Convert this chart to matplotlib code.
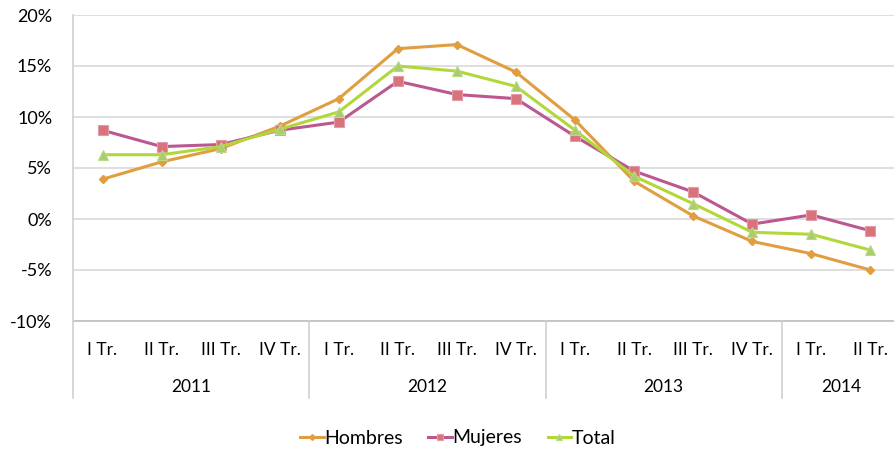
import matplotlib.pyplot as plt
from matplotlib.ticker import FuncFormatter, MultipleLocator

# Datos
trimestres = ['I Tr.', 'II Tr.', 'III Tr.', 'IV Tr.',
              'I Tr.', 'II Tr.', 'III Tr.', 'IV Tr.',
              'I Tr.', 'II Tr.', 'III Tr.', 'IV Tr.',
              'I Tr.', 'II Tr.']
anios = ['2011', '2012', '2013', '2014']
trim_por_anio = [4, 4, 4, 2]

hombres = [3.9, 5.6, 6.9, 9.1, 11.8, 16.7, 17.1, 14.4, 9.7, 3.7, 0.3, -2.2, -3.4, -5.0]
mujeres = [8.7, 7.1, 7.3, 8.7, 9.5, 13.5, 12.2, 11.8, 8.1, 4.7, 2.65, -0.5, 0.4, -1.15]
total = [6.3, 6.3, 7.1, 8.8, 10.5, 15.0, 14.5, 13.0, 8.7, 4.2, 1.5, -1.3, -1.5, -3.05]

plt.rcParams['font.family'] = ['Lato', 'DejaVu Sans']

fig = plt.figure(figsize=(8.94, 4.51), dpi=100)
ax = fig.add_axes([73 / 894, (451 - 321) / 451, (894 - 73) / 894, (321 - 15) / 451])

x = list(range(len(trimestres)))
ax.plot(x, hombres, color='#E09E40', lw=2.2, marker='D', ms=4.5,
        mfc='#E09E40', mec='#E09E40', label='Hombres', zorder=3)
ax.plot(x, mujeres, color='#BB5791', lw=2.2, marker='s', ms=6.5,
        mfc='#D8727C', mec='#E59AA8', mew=0.8, label='Mujeres', zorder=3)
ax.plot(x, total, color='#B2D73A', lw=2.2, marker='^', ms=7,
        mfc='#A9CC6C', mec='#B9DA84', mew=0.8, label='Total', zorder=3)

ax.set_xlim(-0.5, 13.4)
ax.set_ylim(-10, 20)
ax.yaxis.set_major_locator(MultipleLocator(5))
ax.yaxis.set_major_formatter(FuncFormatter(lambda v, p: f'{v:.0f}%'))
ax.grid(axis='y', color='#D9D9D9', lw=1.2)
ax.set_axisbelow(True)
for s in ax.spines.values():
    s.set_visible(False)
ax.tick_params(axis='y', length=0, pad=15, labelsize=13)
ax.set_xticks([])

# eje inferior y separadores de años
ax.axhline(-10, color='#BFBFBF', lw=1.2, clip_on=False)
tr = ax.get_xaxis_transform()
ax.plot([-0.5, -0.5], [-0.252, 1.0], color='#D0D0D0', lw=1.2, transform=tr, clip_on=False)
inicio = 0
for anio, n in zip(anios, trim_por_anio):
    fin = inicio + n
    if fin < len(trimestres):
        ax.plot([fin - 0.5, fin - 0.5], [-0.252, 0], color='#D0D0D0', lw=1.2,
                transform=tr, clip_on=False)
    ax.text((inicio + fin - 1) / 2, -0.216, anio, transform=tr, ha='center',
            va='center', fontsize=12.5)
    inicio = fin

for i, t in enumerate(trimestres):
    ax.text(i, -0.095, t, transform=tr, ha='center', va='center', fontsize=12.5)

fig.legend(loc='center', bbox_to_anchor=(458 / 894, 1 - 438 / 451), ncol=3,
           frameon=False, fontsize=14, handlelength=1.2, handletextpad=0.05,
           columnspacing=1.3, markerscale=0.65)

fig.savefig('out.png', dpi=100)
